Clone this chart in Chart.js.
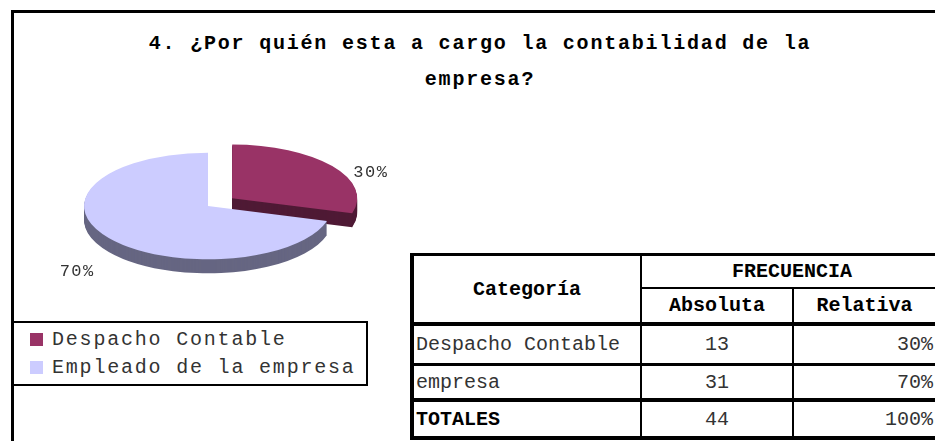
<!DOCTYPE html>
<html>
<head>
<meta charset="utf-8">
<script src="https://cdn.jsdelivr.net/npm/chart.js@4.4.1/dist/chart.umd.min.js"></script>
<style>
  html, body { margin: 0; padding: 0; background: #fff; }
  body { width: 935px; height: 441px; position: relative; overflow: hidden;
         font-family: "Liberation Mono", "DejaVu Sans Mono", monospace; }
  #frame { position: absolute; left: 11px; top: 10px; width: 1000px; height: 500px;
           border: 3px solid #000; box-sizing: border-box; }
  #title { position: absolute; left: 20px; width: 920px; top: 26px; text-align: center;
           font-weight: bold; font-size: 20px; letter-spacing: 1.8px; line-height: 36px; color: #000; }
  #pie { position: absolute; left: 0; top: 0; }
  #legend { position: absolute; left: 12px; top: 321px; width: 356px; height: 65px;
            border: 2px solid #000; box-sizing: border-box; background: #fff; }
  .item { position: absolute; left: 16px; height: 28px; font-size: 20px; letter-spacing: 1.8px;
          color: #333; line-height: 28px; white-space: nowrap; }
  .item span { position: absolute; left: 0; top: 7px; width: 13px; height: 13px; }
  .item b { font-weight: normal; position: absolute; left: 22px; top: 0; }
  #table { position: absolute; left: 410px; top: 253px; width: 540px; height: 187px; background: #000; }
  .cell { position: absolute; background: #fff; display: flex; align-items: center; font-size: 20px;
          color: #333; white-space: nowrap; overflow: hidden; box-sizing: border-box; }
  .head { font-weight: bold; color: #000; justify-content: center; }
</style>
</head>
<body>
<div id="frame"></div>
<div id="title">4. ¿Por quién esta a cargo la contabilidad de la<br>empresa?</div>
<div id="legend"></div>
<div id="table"></div>
<canvas id="pie" width="935" height="441"></canvas>
<script>
// data
const categories = ['Despacho Contable', 'Empleado de la empresa'];
const counts = [13, 31];
const tableLabels = ['Despacho Contable', 'empresa'];
const headers = ['Categoría', 'FRECUENCIA', 'Absoluta', 'Relativa'];
const totalLabel = 'TOTALES';
const topColors = ['#993366', '#ccccff'];
const sideColors = ['#4f1a35', '#666682'];
const explode = [120, 0];

const total = counts.reduce((a, b) => a + b, 0);
const pct = counts.map(v => Math.round(v / total * 100) + '%');

const DEPTH = 14;   // thickness of the pie
const TILT = 0.43;  // vertical squash of the disc

function tilt(ctx, cy) {
    ctx.translate(0, cy);
    ctx.scale(1, TILT);
    ctx.translate(0, -cy);
}

// fake 3D: draw each slice a few times lower in a darker colour, then squash the real faces
const pie3d = {
    id: 'pie3d',
    beforeDatasetsDraw(chart) {
        const ctx = chart.ctx;
        const arcs = chart.getDatasetMeta(0).data;
        const cy = arcs[0].y;
        const order = arcs.map((a, i) => i)
            .sort((a, b) => Math.sin((arcs[a].startAngle + arcs[a].endAngle) / 2) -
                            Math.sin((arcs[b].startAngle + arcs[b].endAngle) / 2));
        order.forEach(i => {
            const ghost = Object.create(arcs[i]);
            ghost.options = Object.assign({}, arcs[i].options, { backgroundColor: sideColors[i], borderWidth: 0 });
            for (let d = DEPTH; d >= 1; d--) {
                ctx.save();
                ctx.translate(0, d);
                tilt(ctx, cy);
                ghost.draw(ctx);
                ctx.restore();
            }
        });
        ctx.save();
        tilt(ctx, cy);
    },
    afterDatasetsDraw(chart) {
        const ctx = chart.ctx;
        ctx.restore();
        const arcs = chart.getDatasetMeta(0).data;
        ctx.save();
        ctx.font = '17px "Liberation Mono", monospace';
        ctx.letterSpacing = '1.5px';
        ctx.fillStyle = '#333';
        ctx.textBaseline = 'middle';
        arcs.forEach((arc, i) => {
            const mid = (arc.startAngle + arc.endAngle) / 2;
            const r = arc.outerRadius + (arc.options.offset || 0) / 4;
            const px = arc.x + Math.cos(mid) * r;
            const py = arc.y + Math.sin(mid) * r * TILT;
            const right = Math.cos(mid) >= 0;
            ctx.textAlign = right ? 'left' : 'right';
            const ty = Math.sin(mid) < 0 ? py + 6 : py + DEPTH + 20;
            ctx.fillText(pct[i], right ? px + 22 : px - 14, ty);
        });
        ctx.restore();
    }
};

new Chart(document.getElementById('pie'), {
    type: 'pie',
    data: {
        labels: categories,
        datasets: [{
            data: counts,
            backgroundColor: topColors,
            borderWidth: 0,
            offset: explode
        }]
    },
    options: {
        responsive: false,
        animation: false,
        radius: 124,
        layout: { padding: { left: 84, right: 603, top: 82, bottom: 111 } },
        plugins: { legend: { display: false }, title: { display: false }, tooltip: { enabled: false } },
        events: []
    },
    plugins: [pie3d]
});

// legend
const legend = document.getElementById('legend');
categories.forEach((c, i) => {
    const div = document.createElement('div');
    div.className = 'item';
    div.style.top = (3 + i * 28) + 'px';
    div.innerHTML = `<span style="background:${topColors[i]}"></span><b>${c}</b>`;
    legend.appendChild(div);
});

// table
const table = document.getElementById('table');
function cell(text, x, y, w, h, cls, align) {
    const div = document.createElement('div');
    div.className = 'cell ' + (cls || '');
    div.style.left = (x - 410) + 'px';
    div.style.top = (y - 253) + 'px';
    div.style.width = w + 'px';
    div.style.height = h + 'px';
    if (align) div.style.justifyContent = align;
    if (align === 'flex-start') div.style.paddingLeft = '2px';
    if (align === 'flex-end') div.style.paddingRight = '2px';
    div.textContent = text;
    table.appendChild(div);
    return div;
}
cell(headers[0], 414, 256, 226, 66, 'head');
cell(headers[1], 642, 256, 300, 31, 'head');
cell(headers[2], 642, 289, 150, 33, 'head');
cell(headers[3], 794, 289, 141, 33, 'head');

const rowY = [326, 366, 402];
const rowH = [37, 32, 34];
tableLabels.forEach((lab, i) => {
    cell(lab, 414, rowY[i], 226, rowH[i], '', 'flex-start');
    cell(String(counts[i]), 642, rowY[i], 150, rowH[i], '', 'center');
    cell(pct[i], 794, rowY[i], 141, rowH[i], '', 'flex-end');
});
const t = cell(totalLabel, 414, rowY[2], 226, rowH[2], '', 'flex-start');
t.style.fontWeight = 'bold';
t.style.color = '#000';
cell(String(total), 642, rowY[2], 150, rowH[2], '', 'center');
cell('100%', 794, rowY[2], 141, rowH[2], '', 'flex-end');
</script>
</body>
</html>
